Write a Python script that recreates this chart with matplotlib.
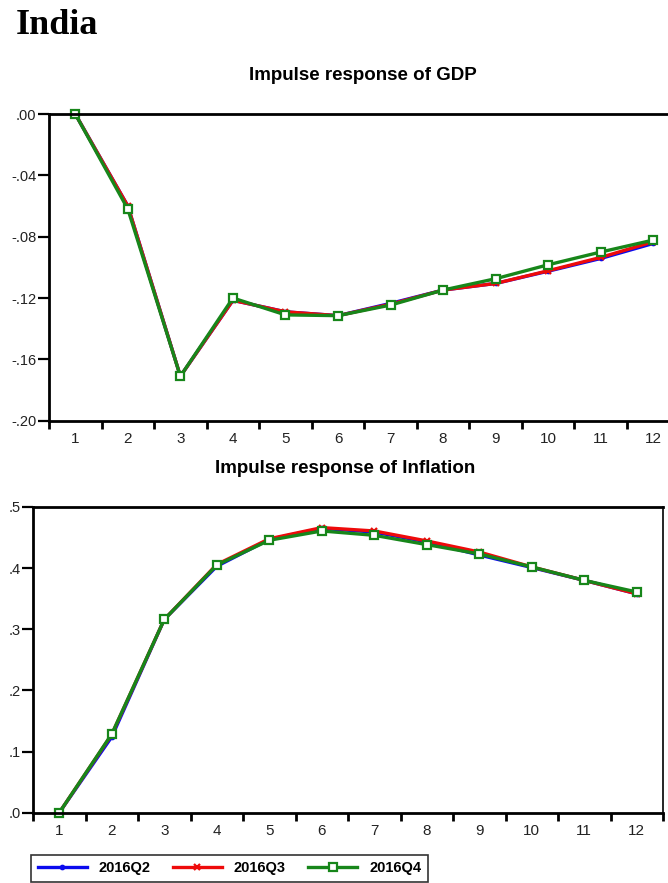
import matplotlib
matplotlib.use("Agg")
import matplotlib.pyplot as plt
from matplotlib.ticker import FixedLocator, FuncFormatter

plt.rcParams['font.family'] = ['Liberation Sans', 'DejaVu Sans']

# horizon (periods)
steps = list(range(1, 13))
series_names = ["2016Q2", "2016Q3", "2016Q4"]

# Impulse response of GDP
gdp_q2 = [0.0, -0.060, -0.171, -0.1215, -0.129, -0.1315, -0.1235, -0.1148, -0.1105, -0.1025, -0.0942, -0.0844]
gdp_q3 = [0.0, -0.060, -0.171, -0.1215, -0.129, -0.1315, -0.1240, -0.1148, -0.1105, -0.1022, -0.0935, -0.0833]
gdp_q4 = [0.0, -0.062, -0.171, -0.1200, -0.131, -0.1315, -0.1246, -0.1148, -0.1074, -0.0983, -0.0900, -0.0822]

# Impulse response of Inflation
inf_q2 = [0.0, 0.124, 0.316, 0.403, 0.447, 0.4650, 0.4590, 0.4430, 0.4215, 0.401, 0.380, 0.358]
inf_q3 = [0.0, 0.128, 0.316, 0.406, 0.448, 0.4663, 0.4608, 0.4445, 0.4264, 0.402, 0.380, 0.358]
inf_q4 = [0.0, 0.1286, 0.316, 0.405, 0.4456, 0.4608, 0.4537, 0.4385, 0.4232, 0.402, 0.380, 0.361]

gdp_ticks = [0.0, -0.04, -0.08, -0.12, -0.16, -0.20]
inf_ticks = [0.0, 0.1, 0.2, 0.3, 0.4, 0.5]

colors = ['#0a0aee', '#ee0a0a', '#17861a']
markers = ['.', 'x', 's']

W, H = 668, 883
fig = plt.figure(figsize=(W / 100, H / 100), dpi=100)


def box(x0, y0, x1, y1):
    # pixel box -> figure fraction
    return [x0 / W, 1 - y1 / H, (x1 - x0) / W, (y1 - y0) / H]


def fmt_gdp(v, pos):
    s = "%.2f" % v
    return s.replace("0.", ".", 1)


def fmt_inf(v, pos):
    s = "%.1f" % v
    return s.replace("0.", ".", 1)


def style_axes(ax, yticks, fmt, xmax, show_right):
    ax.set_xlim(0.5, xmax)
    ax.xaxis.set_major_locator(FixedLocator([i + 0.5 for i in range(0, 13)]))
    ax.xaxis.set_minor_locator(FixedLocator(steps))
    ax.xaxis.set_major_formatter(FuncFormatter(lambda v, p: ""))
    ax.xaxis.set_minor_formatter(FuncFormatter(lambda v, p: "%d" % v))
    ax.tick_params(axis='x', which='major', length=6, width=2, direction='out')
    ax.tick_params(axis='x', which='minor', length=0, pad=8, labelsize=11, labelcolor='#222222')
    ax.set_yticks(yticks)
    ax.yaxis.set_major_formatter(FuncFormatter(fmt))
    ax.tick_params(axis='y', length=8, width=1.6, direction='out', pad=1, labelsize=10.5,
                   labelcolor='#222222')
    for sp in ax.spines.values():
        sp.set_linewidth(2)
        sp.set_color('black')
    ax.spines['right'].set_visible(show_right)
    ax.spines['right'].set_linewidth(1.2)


ax1 = fig.add_axes(box(49, 114, 668, 420.7))
lines = []
for ys, c, m in zip([gdp_q2, gdp_q3, gdp_q4], colors, markers):
    if m == 's':
        ln, = ax1.plot(steps, ys, color=c, lw=2.4, marker=m, ms=5.5, mfc='white', mec=c, mew=1.6)
    else:
        ln, = ax1.plot(steps, ys, color=c, lw=2.4, marker=m, ms=5, mew=1.6)
    lines.append(ln)
ax1.set_ylim(-0.20, 0.0)
style_axes(ax1, gdp_ticks, fmt_gdp, 0.5 + (668 - 49) / 52.55, False)
for ln in ax1.lines:
    ln.set_clip_on(False)

ax2 = fig.add_axes(box(33, 507, 663, 812.7))
for ys, c, m in zip([inf_q2, inf_q3, inf_q4], colors, markers):
    if m == 's':
        ax2.plot(steps, ys, color=c, lw=2.4, marker=m, ms=5.5, mfc='white', mec=c, mew=1.6, clip_on=False)
    else:
        ax2.plot(steps, ys, color=c, lw=2.4, marker=m, ms=5, mew=1.6, clip_on=False)
ax2.set_ylim(0.0, 0.5)
style_axes(ax2, inf_ticks, fmt_inf, 12.5, True)

fig.text(16 / W, 1 - 9 / H, "India", family=['Liberation Serif', 'DejaVu Serif'],
         fontweight='bold', fontsize=26, va='top', ha='left')
fig.text(363 / W, 1 - 76 / H, "Impulse response of GDP", fontweight='bold',
         fontsize=13.5, ha='center', va='center')
fig.text(345 / W, 1 - 468 / H, "Impulse response of Inflation", fontweight='bold',
         fontsize=13.5, ha='center', va='center')

leg = fig.legend(lines, series_names, loc='lower left', bbox_to_anchor=(31 / W, 1 - 882 / H),
                 ncol=3, frameon=True, fancybox=False, handlelength=3.4, columnspacing=1.5,
                 borderpad=0.45, borderaxespad=0, prop={'weight': 'bold', 'size': 10.5})
leg.get_frame().set_edgecolor('black')
leg.get_frame().set_linewidth(1.2)

fig.savefig("out.png", dpi=100)
